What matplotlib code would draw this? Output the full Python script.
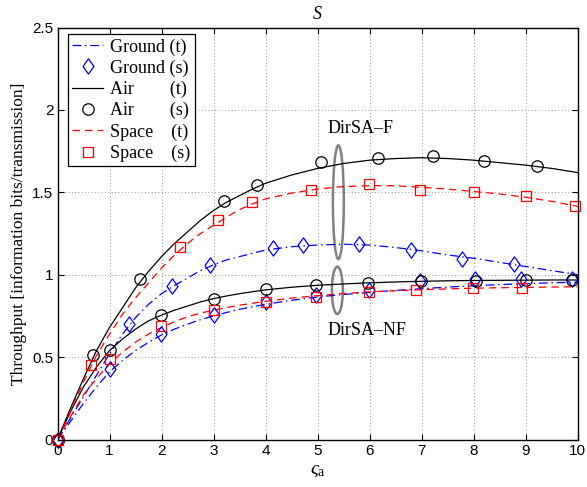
import matplotlib
matplotlib.use("Agg")
import matplotlib.pyplot as plt
from matplotlib.patches import Ellipse

plt.rcParams['mathtext.fontset'] = 'custom'
plt.rcParams['mathtext.rm'] = 'Liberation Serif'
plt.rcParams['mathtext.it'] = 'Liberation Serif:italic'

# ---------------- data ----------------
# theoretical curves
x_t = [0, 0.25, 0.5, 0.75, 1.0, 1.25, 1.5, 1.75, 2.0, 2.25, 2.5, 2.75, 3.0, 3.25, 3.5, 3.75, 4.0,
       4.5, 5.0, 5.5, 6.0, 6.5, 7.0, 7.5, 8.0, 8.5, 9.0, 9.5, 10.0]

air_f_t    = [0, 0.19, 0.37, 0.54, 0.68, 0.80, 0.92, 1.02, 1.11, 1.19, 1.26, 1.33, 1.39, 1.44, 1.48, 1.52, 1.555,
              1.605, 1.645, 1.675, 1.695, 1.705, 1.71, 1.705, 1.695, 1.68, 1.665, 1.645, 1.62]
space_f_t  = [0, 0.17, 0.35, 0.51, 0.64, 0.76, 0.86, 0.95, 1.04, 1.12, 1.19, 1.25, 1.30, 1.35, 1.395, 1.43, 1.46,
              1.495, 1.52, 1.535, 1.54, 1.54, 1.53, 1.52, 1.505, 1.49, 1.47, 1.445, 1.415]
ground_f_t = [0, 0.13, 0.26, 0.39, 0.52, 0.64, 0.74, 0.82, 0.885, 0.935, 0.98, 1.025, 1.06, 1.09, 1.11, 1.13, 1.15,
              1.17, 1.18, 1.185, 1.18, 1.165, 1.145, 1.12, 1.10, 1.075, 1.05, 1.025, 1.0]

air_nf_t    = [0, 0.17, 0.32, 0.44, 0.54, 0.61, 0.67, 0.72, 0.755, 0.785, 0.81, 0.835, 0.855, 0.871, 0.885, 0.897, 0.908,
               0.924, 0.936, 0.944, 0.951, 0.956, 0.96, 0.963, 0.965, 0.966, 0.967, 0.968, 0.968]
space_nf_t  = [0, 0.14, 0.27, 0.37, 0.46, 0.53, 0.59, 0.64, 0.68, 0.715, 0.745, 0.767, 0.785, 0.801, 0.815, 0.827, 0.838,
               0.858, 0.873, 0.886, 0.896, 0.903, 0.909, 0.914, 0.918, 0.921, 0.923, 0.925, 0.927]
ground_nf_t = [0, 0.11, 0.22, 0.32, 0.41, 0.48, 0.54, 0.59, 0.635, 0.67, 0.70, 0.727, 0.75, 0.771, 0.79, 0.806, 0.82,
               0.845, 0.865, 0.88, 0.893, 0.905, 0.915, 0.925, 0.933, 0.94, 0.946, 0.951, 0.955]

# simulation points
air_f_xs = [0, 0.69, 1.59, 3.2, 3.83, 5.06, 6.17, 7.22, 8.2, 9.21]
air_f_s  = [0, 0.513, 0.972, 1.45, 1.545, 1.682, 1.708, 1.722, 1.688, 1.658]
space_f_xs = [0, 0.64, 2.35, 3.08, 3.74, 4.88, 5.98, 6.97, 8.0, 9.01, 9.95]
space_f_s  = [0, 0.45, 1.166, 1.33, 1.443, 1.512, 1.549, 1.512, 1.502, 1.478, 1.417]
ground_f_xs = [0, 1.37, 2.2, 2.94, 4.15, 4.72, 5.8, 6.79, 7.78, 8.78]
ground_f_s  = [0, 0.70, 0.933, 1.056, 1.161, 1.18, 1.187, 1.148, 1.093, 1.067]

air_nf_xs = [0, 1.01, 1.99, 3.0, 4.0, 4.97, 5.97, 6.99, 8.05, 9.0, 9.9]
air_nf_s  = [0, 0.543, 0.755, 0.855, 0.911, 0.94, 0.951, 0.964, 0.964, 0.968, 0.968]
space_nf_xs = [0, 1.0, 1.99, 3.0, 4.0, 4.97, 5.98, 6.9, 7.98, 8.93]
space_nf_s  = [0, 0.488, 0.689, 0.784, 0.836, 0.865, 0.895, 0.907, 0.921, 0.921]
ground_nf_xs = [0, 1.0, 1.99, 3.0, 4.0, 4.97, 5.98, 6.96, 8.03, 8.91, 9.9]
ground_nf_s  = [0, 0.428, 0.638, 0.754, 0.836, 0.877, 0.907, 0.964, 0.972, 0.974, 0.972]

x_ticks = [0, 1, 2, 3, 4, 5, 6, 7, 8, 9, 10]
y_ticks = [0, 0.5, 1, 1.5, 2, 2.5]
y_ticklabels = ['0', '0.5', '1', '1.5', '2', '2.5']

# ---------------- styles ----------------
SERIF = 'Liberation Serif'
SANS = 'Liberation Sans'
lw = 0.9
ground_ls = (0, (7, 3, 1.2, 3))
space_ls = (0, (6, 4))
diamond = [(-0.72, 0), (0, 1), (0.72, 0), (0, -1), (-0.72, 0)]

fig = plt.figure(figsize=(5.87, 4.87), dpi=100)
ax = fig.add_axes([0.098, 0.0975, 0.886, 0.846])

# theory lines
ax.plot(x_t, ground_f_t, color='blue', lw=lw, ls=ground_ls, label='Ground (t)')
ax.plot(x_t, ground_nf_t, color='blue', lw=lw, ls=ground_ls)
ax.plot(x_t, air_f_t, color='black', lw=lw, ls='-', label='Air        (t)')
ax.plot(x_t, air_nf_t, color='black', lw=lw, ls='-')
ax.plot(x_t, space_f_t, color='red', lw=lw, ls=space_ls, label='Space    (t)')
ax.plot(x_t, space_nf_t, color='red', lw=lw, ls=space_ls)

# simulation markers
mk = dict(ls='none', mfc='none', mew=0.9, clip_on=False)
ax.plot(ground_f_xs, ground_f_s, marker=diamond, ms=11, mec='blue', label='Ground (s)', **mk)
ax.plot(ground_nf_xs, ground_nf_s, marker=diamond, ms=11, mec='blue', **mk)
ax.plot(air_f_xs, air_f_s, marker='o', ms=8.2, mec='black', label='Air        (s)', **mk)
ax.plot(air_nf_xs, air_nf_s, marker='o', ms=8.2, mec='black', **mk)
ax.plot(space_f_xs, space_f_s, marker='s', ms=6.8, mec='red', label='Space    (s)', **mk)
ax.plot(space_nf_xs, space_nf_s, marker='s', ms=6.8, mec='red', **mk)

# ellipses & annotations
ax.add_patch(Ellipse((5.4, 1.44), 0.21, 0.69, fill=False, ec='0.5', lw=1.8))
ax.add_patch(Ellipse((5.38, 0.905), 0.21, 0.287, fill=False, ec='0.5', lw=1.8))
ax.text(5.19, 1.89, 'DirSA\u2013F', family=SERIF, fontsize=13, ha='left', va='center')
ax.text(5.19, 0.66, 'DirSA\u2013NF', family=SERIF, fontsize=13, ha='left', va='center')

ax.set_xlim(0, 10)
ax.set_ylim(0, 2.5)
ax.set_xticks(x_ticks)
ax.set_yticks(y_ticks)
ax.set_yticklabels(y_ticklabels)
for lab in ax.get_xticklabels() + ax.get_yticklabels():
    lab.set_family(SANS)
    lab.set_fontsize(11)
ax.tick_params(direction='in', length=4, width=0.8, top=True, right=True, pad=3)
ax.grid(True, ls=(0, (1, 3)), color='0.45', lw=0.6)
for s in ax.spines.values():
    s.set_linewidth(1.0)

ax.set_title('S', family=SERIF, style='italic', fontsize=13, pad=6)
ax.set_xlabel(r'$\varsigma_{\mathrm{a}}$', fontsize=14, labelpad=2)
ax.set_ylabel('Throughput [information bits/transmission]', family=SERIF, fontsize=12.5, labelpad=4)

h, l = ax.get_legend_handles_labels()
order = ['Ground (t)', 'Ground (s)', 'Air        (t)', 'Air        (s)', 'Space    (t)', 'Space    (s)']
hh = [h[l.index(o)] for o in order]
leg = ax.legend(hh, order, loc='upper left', bbox_to_anchor=(0.02, 0.985),
                prop={'family': SERIF, 'size': 13}, frameon=True, fancybox=False,
                edgecolor='black', framealpha=1, handlelength=1.7, handletextpad=0.4,
                labelspacing=0.22, borderpad=0.25, borderaxespad=0)
leg.get_frame().set_linewidth(0.9)

fig.savefig('out.png', dpi=100)
